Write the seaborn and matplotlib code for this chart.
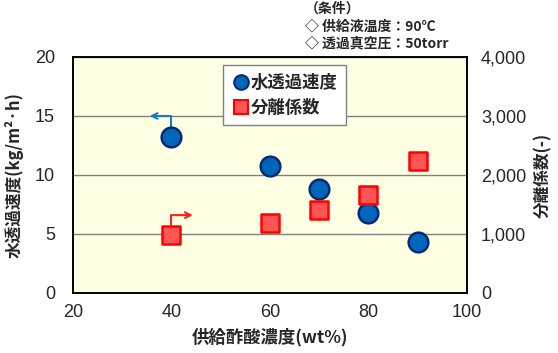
import seaborn as sns
import matplotlib.pyplot as plt
import matplotlib
from matplotlib.lines import Line2D
import pandas as pd

# data
acid_conc = [40, 60, 70, 80, 90]               # 供給酢酸濃度 (wt%)
water_flux = [13.2, 10.8, 8.8, 6.8, 4.35]      # 水透過速度 (kg/m2・h)
sep_factor = [980, 1190, 1410, 1660, 2240]     # 分離係数 (-)
x_ticks = [20, 40, 60, 80, 100]
left_ticks = [0, 5, 10, 15, 20]
right_ticks = [0, 1000, 2000, 3000, 4000]
cond_lines = ['（条件）', '◇ 供給液温度：90℃', '◇ 透過真空圧：50torr']

sns.set_style('white')
cjk = ['Noto Sans CJK JP', 'DejaVu Sans']
plt.rcParams['font.family'] = cjk

df = pd.DataFrame({'conc': acid_conc, 'flux': water_flux, 'sep': sep_factor})

fig = plt.figure(figsize=(5.58, 3.53), dpi=100)
ax = fig.add_axes([0.1308, 0.170, 0.7061, 0.6686])
ax.set_facecolor('#FFFFE3')
ax2 = ax.twinx()

sns.scatterplot(data=df, x='conc', y='flux', ax=ax, marker='o', s=200,
                color='#0066BB', edgecolor='#0A2A6E', linewidth=1.8, zorder=5)
sns.scatterplot(data=df, x='conc', y='sep', ax=ax2, marker='s', s=170,
                color='#FF5555', edgecolor='#FF0000', linewidth=1.8, zorder=5)

ax.set_xlim(20, 100)
ax.set_ylim(0, 20)
ax2.set_ylim(0, 4000)
ax.set_xticks(x_ticks)
ax.set_yticks(left_ticks)
ax2.set_yticks(right_ticks)
ax2.set_yticklabels([f'{v:,}' for v in right_ticks])

ax.grid(axis='y', color='#808080', linewidth=1)
ax.grid(axis='x', visible=False)
ax2.grid(False)
ax.set_axisbelow(True)

tick_font = 'Liberation Sans'
for lab in ax.get_xticklabels() + ax.get_yticklabels() + ax2.get_yticklabels():
    lab.set_fontfamily(tick_font)
    lab.set_fontsize(13)
ax.tick_params(axis='x', direction='in', length=4, width=0.8, color='#555555', pad=8)
ax.tick_params(axis='y', length=0, pad=13)
ax2.tick_params(axis='y', length=0, pad=10)

for sp in list(ax.spines.values()) + list(ax2.spines.values()):
    sp.set_color('black')
    sp.set_linewidth(1.2)

ax.set_xlabel('供給酢酸濃度(wt%)', fontsize=12.5, fontweight='bold', labelpad=5)
ax.set_ylabel('水透過速度(kg/m²·h)', fontsize=12, fontweight='bold', labelpad=8)
ax2.set_ylabel('分離係数(-)', fontsize=12, fontweight='bold', rotation=90, labelpad=6)

# axis indicator arrows
ax.plot([40, 40], [14.1, 15.0], color='#1E78C8', lw=1.5, zorder=4)
ax.annotate('', xy=(35.0, 15.0), xytext=(40.1, 15.0),
            arrowprops=dict(arrowstyle='->', color='#1E78C8', lw=1.5), zorder=4)
ax.plot([39.8, 39.8], [5.75, 6.6], color='#FF2020', lw=1.5, zorder=4)
ax.annotate('', xy=(44.9, 6.6), xytext=(39.7, 6.6),
            arrowprops=dict(arrowstyle='->', color='#FF2020', lw=1.5), zorder=4)

handles = [
    Line2D([], [], marker='o', linestyle='', markersize=10.5, markerfacecolor='#0066BB',
           markeredgecolor='#0A2A6E', markeredgewidth=1.5),
    Line2D([], [], marker='s', linestyle='', markersize=9.5, markerfacecolor='#FF5555',
           markeredgecolor='#FF0000', markeredgewidth=1.5),
]
leg = ax2.legend(handles, ['水透過速度', '分離係数'], loc='upper left',
                 bbox_to_anchor=(0.381, 0.966), borderaxespad=0, frameon=True, fancybox=False,
                 handletextpad=0.0, handlelength=1.1, borderpad=0.5, labelspacing=0.4,
                 prop={'family': cjk, 'size': 12.5, 'weight': 'bold'})
leg.get_frame().set_edgecolor('#808080')
leg.get_frame().set_linewidth(1)
leg.get_frame().set_facecolor('white')
leg.get_frame().set_alpha(1)

for i, line in enumerate(cond_lines):
    fig.text(305 / 558, 1 - (9 + i * 17) / 353, line, fontsize=10, fontweight='bold',
             va='center', ha='left', family=cjk)

fig.savefig('out.png', dpi=100)
